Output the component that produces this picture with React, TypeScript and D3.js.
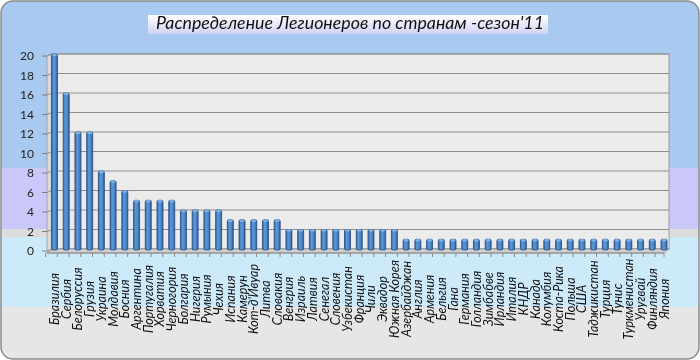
import React from "react";
import * as d3 from "d3";

const categories: string[] = [
  "Бразилия", "Сербия", "Белоруссия", "Грузия", "Украина", "Молдавия", "Босния",
  "Аргентина", "Португалия", "Хорватия", "Черногория", "Болгария", "Нигерия",
  "Румыния", "Чехия", "Испания", "Камерун", "Кот-д'Ивуар", "Литва", "Словакия",
  "Венгрия", "Израиль", "Латвия", "Сенегал", "Словения", "Узбекистан", "Франция",
  "Чили", "Эквадор", "Южная Корея", "Азербайджан", "Англия", "Армения", "Бельгия",
  "Гана", "Германия", "Голландия", "Зимбабве", "Ирландия", "Италия", "КНДР",
  "Канада", "Колумбия", "Коста-Рика", "Польша", "США", "Таджикистан", "Турция",
  "Тунис", "Туркменистан", "Уругвай", "Финляндия", "Япония",
];

const values: number[] = [
  20, 16, 12, 12, 8, 7, 6, 5, 5, 5, 5, 4, 4, 4, 4, 3, 3, 3, 3, 3,
  2, 2, 2, 2, 2, 2, 2, 2, 2, 2,
  1, 1, 1, 1, 1, 1, 1, 1, 1, 1, 1, 1, 1, 1, 1, 1, 1, 1, 1, 1, 1, 1, 1,
];

const yTicks: number[] = [0, 2, 4, 6, 8, 10, 12, 14, 16, 18, 20];

const title = "Распределение Легионеров  по странам -сезон'11";

export default function App() {
  const W = 700, H = 360;
  const x = d3.scalePoint<string>().domain(categories).range([54.5, 664]).padding(0);
  const step = x.step();
  const y = d3.scaleLinear().domain([0, 20]).range([249, 54]);
  const wallL = 52, wallR = 669;
  const barW = 6;
  const font = "Lato, 'Open Sans', sans-serif";

  return (
    <svg width={W} height={H} style={{ position: "fixed", left: 0, top: 0 }}>
      <defs>
        <linearGradient id="barG" x1="0" x2="1" y1="0" y2="0">
          <stop offset="0" stopColor="#2f5f9e" />
          <stop offset="0.35" stopColor="#5d9ad8" />
          <stop offset="0.7" stopColor="#4a86c8" />
          <stop offset="1" stopColor="#2c5a96" />
        </linearGradient>
        <linearGradient id="titleG" x1="0" x2="0" y1="0" y2="1">
          <stop offset="0" stopColor="#ffffff" />
          <stop offset="1" stopColor="#cfd3f6" />
        </linearGradient>
        <clipPath id="outer">
          <rect x={1} y={1} width={W - 2} height={H - 2} rx={12} ry={12} />
        </clipPath>
      </defs>
      <g clipPath="url(#outer)">
        <rect x={0} y={0} width={W} height={168} fill="#a8c9f0" />
        <rect x={0} y={168} width={W} height={61} fill="#c9c8f8" />
        <rect x={0} y={229} width={W} height={8} fill="#dcdcdc" />
        <rect x={0} y={237} width={W} height={70} fill="#cdeafb" />
        <rect x={0} y={307} width={W} height={53} fill="#e6e6e6" />
      </g>
      <rect x={1} y={1} width={W - 2} height={H - 2} rx={12} ry={12} fill="none" stroke="#8c8c8c" strokeWidth={1.5} />

      {/* title */}
      <rect x={148} y={15} width={400} height={19} fill="url(#titleG)" />
      <text x={350} y={29} textAnchor="middle" fontFamily={font} fontStyle="italic" fontSize={17} fill="#111" textLength={388} lengthAdjust="spacingAndGlyphs">
        {title}
      </text>

      {/* back wall */}
      <rect x={wallL} y={y(20)} width={wallR - wallL} height={y(0) - y(20)} fill="#ebebeb" stroke="#9a9a9a" />
      {/* left side wall */}
      <polygon points={`${47},${y(20) + 2} ${wallL},${y(20)} ${wallL},${y(0)} ${47},${y(0) + 4}`} fill="#d9d9d9" stroke="#9a9a9a" strokeWidth={0.8} />
      {yTicks.map((t) => (
        <g key={t}>
          <line x1={wallL} x2={wallR} y1={y(t)} y2={y(t)} stroke="#8f8f8f" strokeWidth={1.2} />
          <line x1={47} x2={wallL} y1={y(t) + 2} y2={y(t)} stroke="#8f8f8f" strokeWidth={1} />
          <line x1={42} x2={47} y1={y(t) + 2} y2={y(t) + 2} stroke="#7f7f7f" />
          <text x={34} y={y(t) + 6} textAnchor="end" fontFamily={font} fontSize={12} fill="#222">
            {t}
          </text>
        </g>
      ))}
      {/* floor */}
      <polygon points={`${47},${y(0) + 4} ${wallL},${y(0)} ${wallR},${y(0)} ${wallR - 5},${y(0) + 4}`} fill="#d0d0d0" stroke="#9a9a9a" strokeWidth={0.8} />
      <line x1={47} x2={wallR - 5} y1={y(0) + 4} y2={y(0) + 4} stroke="#8a8a8a" />
      {categories.map((c, i) => {
        const bx = (x(c) as number) - step / 2 - 3;
        return <line key={"t" + i} x1={bx} x2={bx} y1={y(0) + 4} y2={y(0) + 8} stroke="#8a8a8a" />;
      })}
      <line x1={wallR - 5} x2={wallR - 5} y1={y(0) + 4} y2={y(0) + 8} stroke="#8a8a8a" />

      {/* bars */}
      {categories.map((c, i) => {
        const cx = x(c) as number;
        const top = y(values[i]);
        const bottom = y(0) + 1;
        return (
          <g key={c}>
            <rect x={cx - barW / 2} y={top} width={barW} height={bottom - top} fill="url(#barG)" stroke="#244d82" strokeWidth={0.8} rx={1.5} />
            <ellipse cx={cx} cy={top + 1} rx={barW / 2 - 0.5} ry={1.2} fill="#7fb0e6" />
          </g>
        );
      })}

      {/* category labels */}
      {categories.map((c) => {
        const cx = x(c) as number;
        return (
          <text key={"l" + c} transform={`translate(${cx + 4.5},${299}) rotate(-90)`} textAnchor="middle" fontFamily={font} fontStyle="italic" fontSize={12.5} fill="#111">
            {c}
          </text>
        );
      })}
    </svg>
  );
}
